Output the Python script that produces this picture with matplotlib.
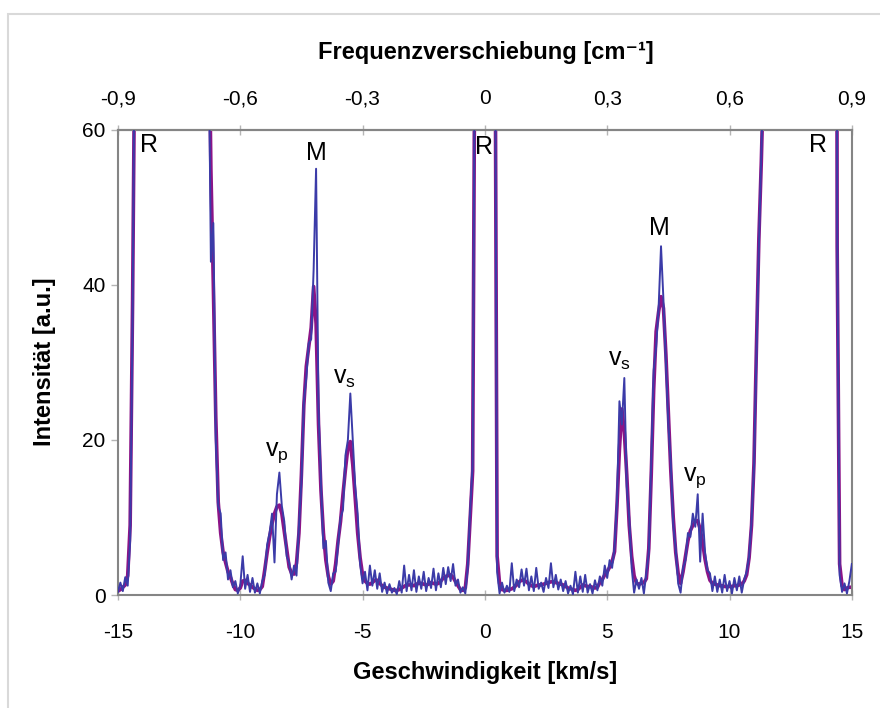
import matplotlib
matplotlib.use("Agg")
import matplotlib.pyplot as plt
from matplotlib.patches import Rectangle
import numpy as np

plt.rcParams["font.family"] = ["Liberation Sans Narrow", "Liberation Sans", "DejaVu Sans"]

# velocity grid of the spectrum, km/s
VELOCITY = np.linspace(-15.0, 15.0, 301)

# measured intensity (a.u.), one row per 1 km/s, 300 = Rayleigh line far off scale
RAW = (
    [0.4, 1.6, 0.5, 2.3, 1.2, 7.0, 36, 80, 300, 300]
    + [300] * 20
    + [300, 300, 300, 300, 300, 300, 200, 75, 43, 48]
    + [20, 11.5, 10.5, 4.5, 5.5, 2.0, 3.2, 1.0, 1.8, 0.2]
    + [1.2, 5.0, 0.8, 2.6, 0.4, 2.2, 0.3, 1.5, 0.2, 1.8]
    + [2.6, 6.5, 8.0, 10.5, 4.2, 13.0, 15.8, 11.5, 9.5, 5.0]
    + [4.2, 2.0, 3.8, 2.5, 9.0, 14.5, 25.0, 28.0, 32.5, 33.0]
    + [42.0, 55.0, 24.0, 14.5, 6.0, 7.0, 1.6, 0.5, 2.8, 3.0]
    + [6.5, 10.0, 11.0, 18.0, 20.0, 26.0, 20.0, 14.0, 10.5, 4.0]
    + [1.5, 3.0, 0.6, 3.8, 1.2, 3.2, 0.8, 2.8, 0.4, 1.6]
    + [0.2, 1.4, 0.3, 0.9, 0.1, 1.8, 0.3, 3.8, 0.5, 2.6]
    + [0.6, 3.2, 0.4, 2.4, 0.8, 3.0, 0.5, 2.2, 0.9, 3.4]
    + [0.6, 2.8, 1.0, 3.5, 1.4, 3.6, 1.8, 4.0, 1.2, 2.0]
    + [0.3, 1.0, 0.2, 3.5, 11.0, 17.0, 80, 300, 300, 300]
    + [300, 300, 300, 300, 92, 3.0, 0.2, 1.6, 0.3, 1.2]
    + [0.4, 4.1, 0.5, 2.0, 1.0, 3.3, 1.2, 3.4, 0.6, 2.4]
    + [0.5, 3.5, 0.8, 1.6, 0.4, 2.2, 0.9, 4.1, 1.0, 2.6]
    + [0.7, 2.0, 0.5, 1.8, 0.2, 1.2, 0.1, 3.0, 0.3, 2.4]
    + [0.4, 2.6, 0.3, 1.4, 0.2, 1.9, 0.6, 2.4, 1.2, 3.8]
    + [2.2, 4.5, 3.5, 6.2, 12.0, 25.0, 22.0, 28.0, 14.0, 10.0]
    + [3.5, 0.3, 2.0, 0.8, 2.2, 0.2, 2.8, 5.5, 17.0, 29.0]
    + [32.0, 37.0, 45.0, 38.0, 30.0, 22.0, 17.0, 9.0, 6.0, 1.5]
    + [0.3, 3.5, 4.5, 8.0, 7.5, 10.5, 8.8, 13.0, 4.3, 10.5]
    + [5.5, 3.2, 2.8, 0.5, 2.4, 0.4, 2.0, 0.3, 2.6, 0.5]
    + [1.8, 0.2, 2.2, 0.6, 2.4, 0.3, 2.0, 3.0, 5.0, 9.5]
    + [16.5, 31, 45, 57, 69, 300, 300, 300, 300, 300]
    + [300] * 20
    + [300, 300, 300, 300, 48, 2.6, 0.4, 1.5, 0.2, 1.8]
    + [4.0]
)

# smoothed intensity (a.u.) on the same grid
SMOOTHED = (
    [0.5, 0.7, 1.0, 1.3, 2.5, 9.0, 38, 75, 150, 300]
    + [300] * 20
    + [300, 300, 300, 300, 300, 300, 200, 80, 55, 40]
    + [23, 12, 8.0, 5.5, 4.2, 3.0, 2.3, 1.4, 0.7, 0.6]
    + [0.9, 1.8, 1.9, 1.5, 1.3, 1.0, 0.8, 0.6, 0.7, 1.1]
    + [3.2, 5.5, 7.5, 9.2, 10.5, 11.4, 11.6, 10.5, 8.2, 5.8]
    + [3.6, 2.8, 2.7, 4.1, 8.0, 15.5, 24.5, 29.5, 32.0, 34.5]
    + [39.8, 35.0, 22.0, 13.5, 8.0, 4.5, 2.4, 1.4, 1.8, 4.0]
    + [7.0, 9.5, 13.0, 16.2, 19.0, 19.8, 16.8, 12.5, 8.0, 4.8]
    + [2.6, 1.8, 1.5, 1.4, 1.6, 1.9, 1.9, 1.5, 1.2, 1.0]
    + [0.9, 0.8, 0.7, 0.6, 0.6, 0.7, 0.9, 1.1, 1.3, 1.3]
    + [1.3, 1.2, 1.4, 1.5, 1.5, 1.4, 1.3, 1.4, 1.6, 1.5]
    + [1.4, 1.5, 1.8, 2.2, 2.4, 2.5, 2.6, 2.3, 1.7, 1.2]
    + [0.7, 0.6, 0.9, 4.0, 10.0, 16.0, 80, 300, 300, 300]
    + [300, 300, 300, 300, 90, 5.0, 1.5, 0.7, 0.6, 0.6]
    + [0.7, 0.8, 1.0, 1.3, 1.7, 1.9, 1.9, 1.7, 1.4, 1.2]
    + [1.1, 1.2, 1.3, 1.3, 1.4, 1.5, 1.6, 1.7, 1.7, 1.6]
    + [1.5, 1.4, 1.3, 1.1, 0.9, 0.8, 0.7, 0.6, 0.7, 1.0]
    + [1.3, 1.2, 1.1, 1.1, 1.0, 0.9, 1.0, 1.6, 2.0, 2.6]
    + [3.0, 3.6, 4.3, 5.6, 11.5, 18.8, 24.0, 21.0, 15.5, 9.0]
    + [5.0, 2.5, 1.5, 1.4, 1.5, 1.6, 2.1, 6.0, 15.5, 26.5]
    + [34.0, 36.5, 38.5, 37.0, 31.0, 23.5, 16.0, 10.0, 5.5, 2.8]
    + [1.5, 3.0, 5.0, 7.0, 8.3, 9.0, 9.5, 9.6, 8.5, 6.8]
    + [4.6, 3.0, 1.9, 1.5, 1.4, 1.3, 1.2, 1.2, 1.1, 1.1]
    + [1.1, 1.1, 1.2, 1.2, 1.3, 1.4, 1.8, 2.6, 4.8, 9.0]
    + [17, 32, 46, 56, 68, 300, 300, 300, 300, 300]
    + [300] * 20
    + [300, 300, 300, 300, 45, 4.0, 1.2, 0.7, 0.9, 1.0]
    + [1.0]
)

VELOCITY_TICKS = [-15, -10, -5, 0, 5, 10, 15]
INTENSITY_TICKS = [0, 20, 40, 60]
FREQ_TICKS = [-0.9, -0.6, -0.3, 0.0, 0.3, 0.6, 0.9]
FREQ_LABELS = ["-0,9", "-0,6", "-0,3", "0", "0,3", "0,6", "0,9"]

# peak labels: text, velocity, intensity
PEAK_LABELS = [
    ("R", -13.75, 58.0),
    ("M", -6.9, 57.0),
    (r"v$_\mathregular{s}$", -5.75, 28.0),
    (r"v$_\mathregular{p}$", -8.5, 18.4),
    ("R", -0.05, 57.8),
    (r"v$_\mathregular{s}$", 5.5, 30.3),
    ("M", 7.15, 47.3),
    (r"v$_\mathregular{p}$", 8.6, 15.2),
    ("R", 13.6, 58.0),
]

KM_S_PER_CM1 = 15.0 / 0.9

BLUE = "#3b3ba8"
PURPLE = "#8c1487"
FRAME = "#858585"
TICK = "#b5b5b5"

fig = plt.figure(figsize=(8.8, 7.08), dpi=100)
fig.patches.append(Rectangle((8 / 880, -0.1), 1.2, 1.1 - 14 / 708, transform=fig.transFigure,
                             fill=False, edgecolor="#d9d9d9", linewidth=1.5))

ax = fig.add_axes([0.134, 0.1596, 0.834, 0.6568])
ax.plot(VELOCITY, SMOOTHED, color=PURPLE, linewidth=2.6, zorder=2)
ax.plot(VELOCITY, RAW, color=BLUE, linewidth=1.4, zorder=3)
ax.set_xlim(-15, 15)
ax.set_ylim(0, 60)
ax.set_xticks(VELOCITY_TICKS)
ax.set_xticklabels([str(v) for v in VELOCITY_TICKS])
ax.set_yticks(INTENSITY_TICKS)

for spine in ax.spines.values():
    spine.set_color(FRAME)
    spine.set_linewidth(1.5)

ax.tick_params(axis="x", direction="inout", length=7, width=1, color=TICK, labelsize=15, pad=17)
ax.tick_params(axis="y", direction="out", length=5, width=1, color=TICK, labelsize=15, pad=4)

top = ax.secondary_xaxis("top", functions=(lambda v: v / KM_S_PER_CM1, lambda f: f * KM_S_PER_CM1))
top.set_xticks(FREQ_TICKS)
top.set_xticklabels(FREQ_LABELS)
top.tick_params(direction="inout", length=7, width=1, color=TICK, labelsize=15, pad=12)
top.spines["top"].set_color(FRAME)
top.spines["top"].set_linewidth(1.5)

for text, v, i in PEAK_LABELS:
    ax.text(v, i, text, ha="center", va="center", fontsize=18, family="Liberation Sans")

fig.text(485 / 880, 1 - 673 / 708, "Geschwindigkeit [km/s]", ha="center", va="center",
         fontsize=17, fontweight="bold")
fig.text(486 / 880, 1 - 53 / 708, "Frequenzverschiebung [cm⁻¹]", ha="center",
         va="center", fontsize=17, fontweight="bold")
fig.text(45 / 880, 1 - 362 / 708, "Intensität [a.u.]", ha="center", va="center",
         rotation=90, fontsize=17, fontweight="bold")

fig.savefig("out.png", dpi=100)
